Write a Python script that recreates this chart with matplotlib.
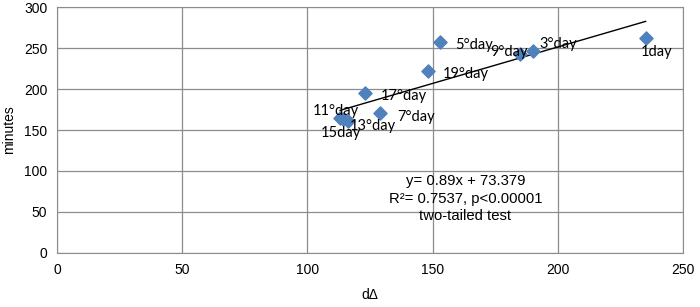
import matplotlib
matplotlib.use("Agg")
import matplotlib.pyplot as plt
import numpy as np

# ---------------------------- data ---------------------------- #
labels = ["1day", "3°day", "9°day", "5°day", "19°day", "17°day",
          "7°day", "11°day", "15day", "13°day"]
d_delta = [235, 190, 185, 153, 148, 123, 129, 113, 114, 116]
minutes = [262, 246, 243, 257, 222, 195, 171, 165, 163, 161]

slope, intercept = 0.89, 73.379
fit_x = [113, 235]

# label offsets in points (dx, dy) from each marker
offsets = {
    "1day": (-3.5, -10), "3°day": (5, 5), "9°day": (-22, 1.5), "5°day": (11, -2),
    "19°day": (11, -2), "17°day": (11, -2), "7°day": (12, -3),
    "11°day": (-20, 5), "15day": (-16, -10), "13°day": (1.5, -3.5),
}

plt.rcParams["font.family"] = ["Liberation Sans", "DejaVu Sans"]

fig = plt.figure(figsize=(7, 3.07), dpi=100)
ax = fig.add_axes([0.0814, 0.176, 0.8946, 0.801])

ax.grid(True, color="#8c8c8c", linewidth=0.9)
ax.set_axisbelow(True)

ax.scatter(d_delta, minutes, marker="D", s=45, color="#4F81BD", zorder=3)
fx = np.array(fit_x)
ax.plot(fx, slope * fx + intercept, color="black", linewidth=1, zorder=2)

for lab, x, y in zip(labels, d_delta, minutes):
    dx, dy = offsets[lab]
    ax.annotate(lab, (x, y), xytext=(dx, dy), textcoords="offset points",
                fontsize=10.5, family=["Lato", "DejaVu Sans"], va="center",
                ha="left", zorder=4)

ax.text(163, 96, "y= 0.89x + 73.379\nR²= 0.7537, p<0.00001\ntwo-tailed test",
        ha="center", va="top", fontsize=10.7, linespacing=1.3)

ax.set_xlim(0, 250)
ax.set_ylim(0, 300)
ax.set_xticks(range(0, 251, 50))
ax.set_yticks(range(0, 301, 50))
ax.tick_params(labelsize=10, length=0, pad=7)
for s in ax.spines.values():
    s.set_color("#8c8c8c")
ax.set_xlabel("dΔ", fontsize=10, labelpad=8)
ax.set_ylabel("minutes", fontsize=10, labelpad=6)

fig.savefig("out.png", dpi=100)
